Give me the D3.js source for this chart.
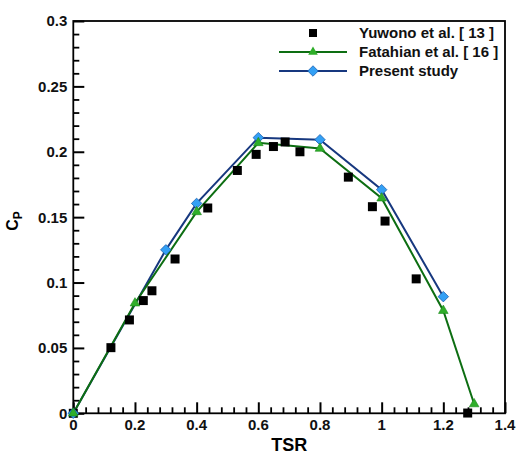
<!DOCTYPE html>
<html><head><meta charset="utf-8">
<script src="https://cdn.jsdelivr.net/npm/d3@7"></script>
<style>body{margin:0;background:#fff;}text{font-family:"Liberation Sans",Arial,sans-serif;}</style>
</head><body>
<svg id="chart" width="516" height="457"></svg>
<script>
// Data
const yuwonoTSR = [0, 0.122, 0.182, 0.227, 0.255, 0.33, 0.436, 0.532, 0.593, 0.649, 0.687, 0.735, 0.892, 0.97, 1.011, 1.112, 1.279];
const yuwonoCp  = [0, 0.0502, 0.0714, 0.0862, 0.0937, 0.118, 0.157, 0.1857, 0.198, 0.204, 0.2075, 0.2, 0.1806, 0.158, 0.147, 0.1028, 0.0002];
const fatahianTSR = [0, 0.2, 0.4, 0.6, 0.8, 1.0, 1.2, 1.3];
const fatahianCp  = [0, 0.0842, 0.154, 0.2068, 0.2025, 0.1645, 0.0785, 0.0071];
const presentTSR = [0, 0.3, 0.4, 0.6, 0.8, 1.0, 1.2];
const presentCp  = [0, 0.125, 0.1605, 0.2108, 0.2092, 0.171, 0.0892];
const xTicks = [0, 0.2, 0.4, 0.6, 0.8, 1.0, 1.2, 1.4];
const xTickLabels = ["0", "0.2", "0.4", "0.6", "0.8", "1", "1.2", "1.4"];
const yTicks = [0, 0.05, 0.1, 0.15, 0.2, 0.25, 0.3];
const yTickLabels = ["0", "0.05", "0.1", "0.15", "0.2", "0.25", "0.3"];
const xMinorTicks = [0.04, 0.08, 0.12, 0.16, 0.24, 0.28, 0.32, 0.36, 0.44, 0.48, 0.52, 0.56, 0.64, 0.68, 0.72, 0.76, 0.84, 0.88, 0.92, 0.96, 1.04, 1.08, 1.12, 1.16, 1.24, 1.28, 1.32, 1.36];
const yMinorTicks = [0.01, 0.02, 0.03, 0.04, 0.06, 0.07, 0.08, 0.09, 0.11, 0.12, 0.13, 0.14, 0.16, 0.17, 0.18, 0.19, 0.21, 0.22, 0.23, 0.24, 0.26, 0.27, 0.28, 0.29];
const seriesNames = ["Yuwono et al. [ 13 ]", "Fatahian et al. [ 16 ]", "Present study"];

const svg = d3.select("#chart");
const L = 73.3, R = 505, T = 21, B = 413.3;
const x = d3.scaleLinear().domain([0, 1.4]).range([L, R]);
const y = d3.scaleLinear().domain([0, 0.3]).range([B, T]);

const greenLine = "#0d6e12", greenFill = "#2fae2a";
const blueLine = "#17387f", blueFill = "#33a0f5";

// axes via d3.axis: axisRight at left edge / axisTop at bottom edge -> inward ticks
function styleAxis(g, w) {
  g.select(".domain").remove();
  g.selectAll(".tick line").attr("stroke", "#000").attr("stroke-width", w);
  g.selectAll(".tick text").remove();
}
svg.append("g").attr("transform", `translate(${L},0)`)
  .call(d3.axisRight(y).tickValues(yMinorTicks).tickSize(6)).call(g => styleAxis(g, 1.8));
svg.append("g").attr("transform", `translate(${L},0)`)
  .call(d3.axisRight(y).tickValues(yTicks).tickSize(11)).call(g => styleAxis(g, 2));
svg.append("g").attr("transform", `translate(0,${B})`)
  .call(d3.axisTop(x).tickValues(xMinorTicks).tickSize(6)).call(g => styleAxis(g, 1.8));
svg.append("g").attr("transform", `translate(0,${B})`)
  .call(d3.axisTop(x).tickValues(xTicks).tickSize(11)).call(g => styleAxis(g, 2));

// frame
svg.append("rect").attr("x", L).attr("y", T).attr("width", R - L).attr("height", B - T)
  .attr("fill", "none").attr("stroke", "#000").attr("stroke-width", 1.8);

// tick labels
svg.append("g").selectAll("text").data(yTicks).join("text")
  .attr("x", L - 6).attr("y", d => y(d)).attr("dy", "0.36em").attr("text-anchor", "end")
  .style("font-size", "15px").style("font-weight", "bold").attr("fill", "#111")
  .text((d, i) => yTickLabels[i]);
svg.append("g").selectAll("text").data(xTicks).join("text")
  .attr("x", d => x(d)).attr("y", B + 17).attr("text-anchor", "middle")
  .style("font-size", "15px").style("font-weight", "bold").attr("fill", "#111")
  .text((d, i) => xTickLabels[i]);

// lines
const line = d3.line().x(d => x(d[0])).y(d => y(d[1]));
const fatahian = fatahianTSR.map((v, i) => [v, fatahianCp[i]]);
const present = presentTSR.map((v, i) => [v, presentCp[i]]);
const yuwono = yuwonoTSR.map((v, i) => [v, yuwonoCp[i]]);

svg.append("path").datum(present).attr("d", line).attr("fill", "none").attr("stroke", blueLine).attr("stroke-width", 2);
svg.append("path").datum(fatahian).attr("d", line).attr("fill", "none").attr("stroke", greenLine).attr("stroke-width", 2);

const sq = d3.symbol().type(d3.symbolSquare).size(81);
const tri = d3.symbol().type(d3.symbolTriangle).size(40);
const dia = d3.symbol().type(d3.symbolDiamond2).size(70);

svg.append("g").selectAll("path").data(yuwono).join("path")
  .attr("transform", d => `translate(${x(d[0])},${y(d[1])})`).attr("d", sq).attr("fill", "#000");
svg.append("g").selectAll("path").data(present).join("path")
  .attr("transform", d => `translate(${x(d[0])},${y(d[1])})`).attr("d", dia).attr("fill", blueFill).attr("stroke", "#1a5fb0").attr("stroke-width", 0.8);
svg.append("g").selectAll("path").data(fatahian).join("path")
  .attr("transform", d => `translate(${x(d[0])},${y(d[1])})`).attr("d", tri).attr("fill", greenFill).attr("stroke", "#1a8a1a").attr("stroke-width", 0.6);

// legend
const legY = [33, 52, 71];
const lg = svg.append("g");
lg.append("path").attr("transform", `translate(313,${legY[0]})`).attr("d", d3.symbol().type(d3.symbolSquare).size(64)).attr("fill", "#000");
lg.append("line").attr("x1", 279).attr("x2", 347).attr("y1", legY[1]).attr("y2", legY[1]).attr("stroke", greenLine).attr("stroke-width", 2);
lg.append("path").attr("transform", `translate(313,${legY[1]})`).attr("d", tri).attr("fill", greenFill);
lg.append("line").attr("x1", 279).attr("x2", 347).attr("y1", legY[2]).attr("y2", legY[2]).attr("stroke", blueLine).attr("stroke-width", 2);
lg.append("path").attr("transform", `translate(313,${legY[2]})`).attr("d", dia).attr("fill", blueFill).attr("stroke", "#1a5fb0").attr("stroke-width", 0.8);
lg.selectAll("text").data(seriesNames).join("text")
  .attr("x", 359).attr("y", (d, i) => legY[i]).attr("dy", "0.35em")
  .style("font-size", "15px").style("font-weight", "bold").attr("fill", "#111").text(d => d);

// axis titles
svg.append("text").attr("x", (L + R) / 2).attr("y", 451).attr("text-anchor", "middle")
  .style("font-size", "18px").style("font-weight", "bold").text("TSR");
const yl = svg.append("text").attr("transform", "translate(18,221) rotate(-90)").attr("text-anchor", "middle")
  .style("font-size", "16px").style("font-weight", "bold");
yl.append("tspan").text("C");
yl.append("tspan").attr("dy", "4").style("font-size", "12px").text("P");
</script>
</body></html>
